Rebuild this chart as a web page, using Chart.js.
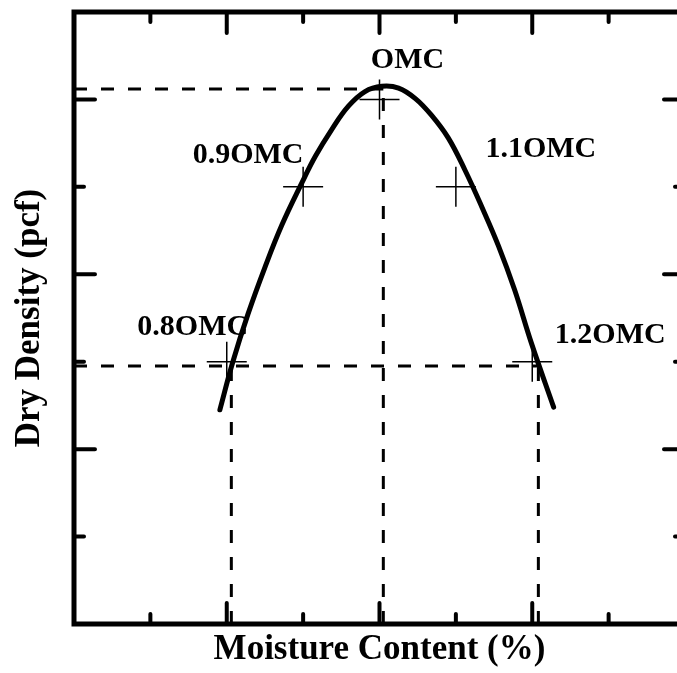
<!DOCTYPE html>
<html>
<head>
<meta charset="utf-8">
<script src="https://cdn.jsdelivr.net/npm/chart.js@4"></script>
<style>
    html, body { margin: 0; padding: 0; background: #fff; overflow: hidden; }
    #wrap { width: 700px; height: 673px; }
</style>
</head>
<body>
<div id="wrap"><canvas id="proctorChart"></canvas></div>
<script>
// compaction curve (axis units, no tick labels in the original)
const curveX = [1.91, 2.08, 2.28, 2.50, 2.72, 2.98, 3.16, 3.37, 3.59, 3.81, 4.03, 4.25, 4.47, 4.68, 4.90, 5.12, 5.34, 5.56, 5.77, 5.99, 6.28];
const curveY = [2.45, 3.00, 3.55, 4.08, 4.56, 5.04, 5.35, 5.65, 5.92, 6.09, 6.15, 6.13, 6.01, 5.82, 5.56, 5.19, 4.77, 4.32, 3.82, 3.21, 2.48];

// marked test points
const pointLabels = ["0.8OMC", "0.9OMC", "OMC", "1.1OMC", "1.2OMC"];
const pointX = [2, 3, 4, 5, 6];
const pointY = [3, 5, 6, 5, 3];

// dashed guide lines
const maxDensity = 6.12;
const omc = 4.05;
const lowDensity = 2.95;
const lowMoisture = 2.06;
const highMoisture = 6.08;

const xTicks = [1, 2, 3, 4, 5, 6, 7];
const yTicks = [1, 2, 3, 4, 5, 6];

function guide(x1, y1, x2, y2) {
    return {
        data: [{ x: x1, y: y1 }, { x: x2, y: y2 }],
        borderColor: "#000",
        borderWidth: 3,
        borderDash: [13, 14],
        pointRadius: 0,
        fill: false
    };
}

// label offsets in pixels from each cross (center x, baseline)
const labelOffsets = [[-34, -27], [-55, -24], [28, -31], [85, -30], [78, -19]];

const framePlugin = {
    id: "frame",
    afterDraw(chart) {
        const ctx = chart.ctx;
        const a = chart.chartArea;
        const xs = chart.scales.x;
        const ys = chart.scales.y;

        ctx.save();
        ctx.strokeStyle = "#000";
        ctx.lineWidth = 5;
        ctx.strokeRect(a.left, a.top, a.right - a.left, a.bottom - a.top);

        ctx.lineWidth = 4;
        ctx.lineCap = "round";
        ctx.beginPath();
        xTicks.forEach(v => {
            let px = xs.getPixelForValue(v);
            let len = v % 2 === 0 ? 21 : 10;
            ctx.moveTo(px, a.bottom);
            ctx.lineTo(px, a.bottom - len);
            ctx.moveTo(px, a.top);
            ctx.lineTo(px, a.top + len);
        });
        yTicks.forEach(v => {
            let py = ys.getPixelForValue(v);
            let len = v % 2 === 0 ? 21 : 10;
            ctx.moveTo(a.left, py);
            ctx.lineTo(a.left + len, py);
            ctx.moveTo(a.right, py);
            ctx.lineTo(a.right - len, py);
        });
        ctx.stroke();

        ctx.fillStyle = "#000";
        ctx.font = "bold 30px 'Liberation Serif', 'Times New Roman', serif";
        ctx.textAlign = "center";
        ctx.textBaseline = "alphabetic";
        pointLabels.forEach((t, i) => {
            let px = xs.getPixelForValue(pointX[i]);
            let py = ys.getPixelForValue(pointY[i]);
            ctx.fillText(t, px + labelOffsets[i][0], py + labelOffsets[i][1]);
        });
        ctx.restore();
    }
};

const titleFont = { family: "'Liberation Serif', 'Times New Roman', serif", size: 35, weight: "bold" };

new Chart(document.getElementById("proctorChart"), {
    type: "line",
    data: {
        datasets: [
            guide(0, maxDensity, omc, maxDensity),
            guide(omc, 0, omc, maxDensity),
            guide(0, lowDensity, highMoisture, lowDensity),
            guide(lowMoisture, 0, lowMoisture, lowDensity),
            guide(highMoisture, 0, highMoisture, lowDensity),
            {
                data: curveX.map((x, i) => ({ x: x, y: curveY[i] })),
                borderColor: "#000",
                borderWidth: 5,
                borderCapStyle: "round",
                tension: 0.4,
                pointRadius: 0,
                fill: false
            },
            {
                data: pointX.map((x, i) => ({ x: x, y: pointY[i] })),
                showLine: false,
                pointStyle: "cross",
                pointRadius: 20,
                pointBorderWidth: 1.5,
                pointBorderColor: "#000",
                pointBackgroundColor: "#000"
            }
        ]
    },
    options: {
        responsive: true,
        maintainAspectRatio: false,
        animation: false,
        layout: { autoPadding: false, padding: { top: 12, right: 15, left: 0, bottom: 0 } },
        plugins: {
            legend: { display: false },
            tooltip: { enabled: false }
        },
        scales: {
            x: {
                type: "linear",
                min: 0,
                max: 8,
                grid: { display: false },
                border: { display: false },
                ticks: { display: false },
                title: { display: true, text: "Moisture Content (%)", color: "#000", font: titleFont, padding: { top: 0, bottom: 2 } },
                afterFit(s) { s.height = 49; }
            },
            y: {
                type: "linear",
                min: 0,
                max: 7,
                grid: { display: false },
                border: { display: false },
                ticks: { display: false },
                title: { display: true, text: "Dry Density (pcf)", color: "#000", font: titleFont, padding: { top: 9, bottom: 0 } },
                afterFit(s) { s.width = 74; }
            }
        }
    },
    plugins: [framePlugin]
});
</script>
</body>
</html>
